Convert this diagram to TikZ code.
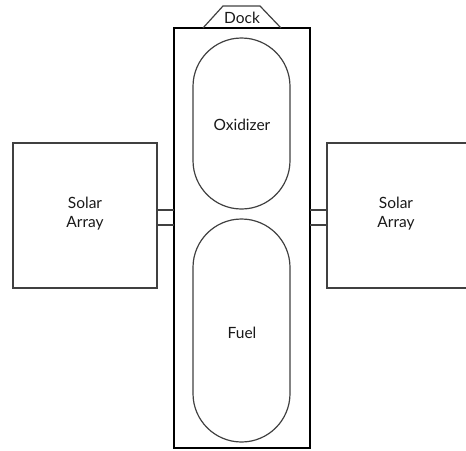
\documentclass[tikz,border=0pt]{standalone}
\usepackage{fontspec}
\setmainfont{Lato}
\begin{document}
\begin{tikzpicture}[x=1pt,y=-1pt,
  thin line/.style={draw=black!75,line width=1.2pt},
  body line/.style={draw=black,line width=2pt},
  lbl/.style={font=\fontsize{15.5}{19}\selectfont,align=center,text=black!90}]
\useasboundingbox (0,0) rectangle (466,450);
% body
\draw[body line] (174,28) rectangle (310,448);
% dock
\draw[thin line] (203,28) -- (223,6) -- (260,6) -- (281,28);
\node[lbl] (dock) at (242,17.5) {Dock};
% tanks
\draw[thin line,rounded corners=48.5pt] (193,38) rectangle (290,209);
\draw[thin line,rounded corners=48.5pt] (193,219) rectangle (290,442);
\node[lbl] (ox) at (242,125) {Oxidizer};
\node[lbl] (fuel) at (242,333) {Fuel};
% solar arrays
\draw[thin line] (13,143) rectangle (157,288);
\draw[thin line] (327,143) rectangle (470,288);
\node[lbl] (saL) at (85,214) {Solar\\Array};
\node[lbl] (saR) at (396,214) {Solar\\Array};
% connectors
\draw[thin line] (157,210) -- (174,210) (157,225) -- (174,225);
\draw[thin line] (310,210) -- (327,210) (310,225) -- (327,225);
\end{tikzpicture}
\end{document}
